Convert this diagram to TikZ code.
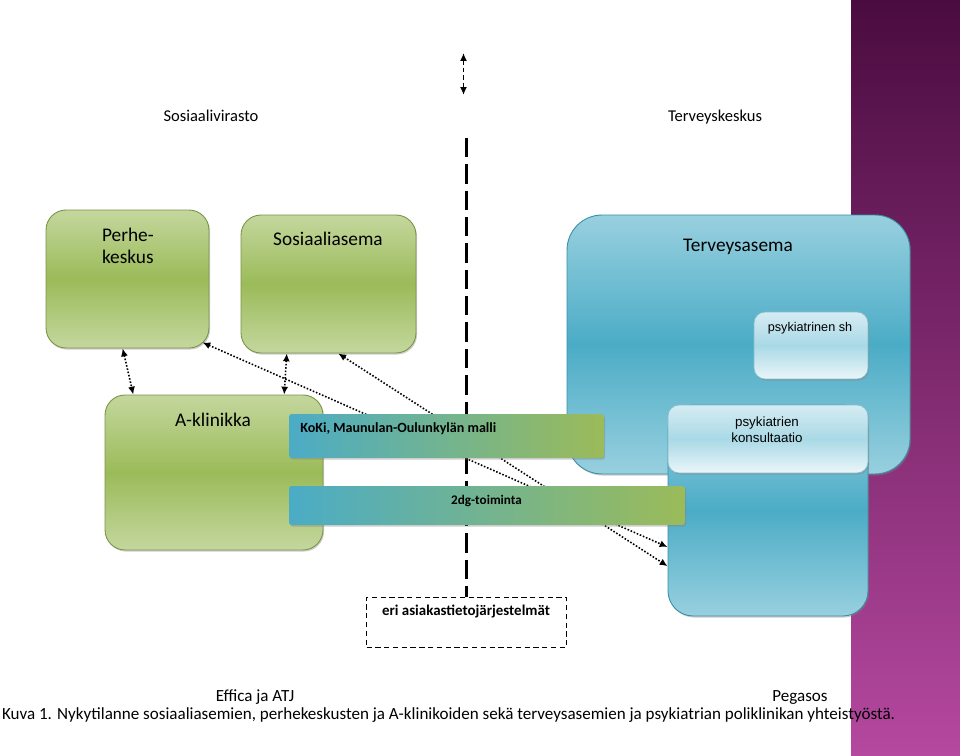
\documentclass[tikz,border=0pt]{standalone}
\usepackage{fontspec}
\setmainfont{Carlito}
\newfontfamily\arialfont{Liberation Sans}
\usetikzlibrary{calc,arrows.meta,shadows}

\definecolor{grnlight}{HTML}{C4D79E}
\definecolor{grndark}{HTML}{9BBB59}
\definecolor{grnline}{HTML}{7A9444}
\definecolor{blulight}{HTML}{98D0DF}
\definecolor{bludark}{HTML}{4BACC6}
\definecolor{bluline}{HTML}{3A8FA6}
\definecolor{glasstop}{HTML}{D6ECF3}
\definecolor{glassmid}{HTML}{A9D9E6}
\definecolor{purtop}{HTML}{4A0C40}
\definecolor{purbot}{HTML}{B5489F}

\begin{document}
\begin{tikzpicture}[x=0.02cm,y=-0.02cm,>={Latex[length=4.5pt,width=4pt]},
  greenbox/.style={draw=grnline,line width=0.5pt,rounded corners=0.4cm,
    top color=grnlight,bottom color=grnlight,middle color=grndark,
    drop shadow={shadow xshift=0.6pt,shadow yshift=-0.9pt,opacity=0.4}},
  bluebox/.style={draw=bluline,line width=0.5pt,rounded corners=0.7cm,
    top color=blulight,bottom color=blulight,middle color=bludark,
    drop shadow={shadow xshift=0.6pt,shadow yshift=-0.9pt,opacity=0.4}},
  glassbox/.style={draw=bluline!60,line width=0.4pt,rounded corners=0.22cm,
    top color=glasstop,bottom color=glasstop!50!white,middle color=glassmid,
    drop shadow={shadow xshift=0.6pt,shadow yshift=-0.9pt,opacity=0.4}},
  bar/.style={rounded corners=1.5pt,left color=bludark,right color=grndark,inner sep=0pt,
    drop shadow={shadow xshift=0.6pt,shadow yshift=-0.9pt,opacity=0.4}},
  txt/.style={anchor=base,inner sep=0pt,font=\fontsize{9.7}{11}\selectfont},
  title/.style={anchor=base,inner sep=0pt,font=\fontsize{11}{12.6}\selectfont},
  small/.style={anchor=base,inner sep=0pt,font=\arialfont\fontsize{7.2}{9}\selectfont},
  bartxt/.style={anchor=base,inner sep=0pt,font=\bfseries\fontsize{8}{10}\selectfont},
  link/.style={<->,densely dotted,line width=0.9pt},
]

\useasboundingbox (0,0) rectangle (960,756);
\fill[top color=purtop,bottom color=purbot] (851,0) rectangle (960,756);

\node[txt,font=\fontsize{9.4}{11}\selectfont] (sosvir) at (211,122) {Sosiaalivirasto};
\node[txt,font=\fontsize{9.4}{11}\selectfont] (tervk) at (715,122) {Terveyskeskus};

%%%%%%%%%%%%%%%%%%%%%%%%%%%%%%%%%%%%%%%%%%%%%%%%%%%%%%%%%%%%%%%%

\node[greenbox,minimum width=3.26cm,minimum height=2.76cm] (perhe) at (127.5,279) {};
\node[greenbox,minimum width=3.5cm,minimum height=2.76cm] (sosas) at (328.5,284) {};
\node[greenbox,minimum width=4.36cm,minimum height=3.1cm] (aklin) at (214,472.5) {};

\node[bluebox,minimum width=6.86cm,minimum height=5.18cm] (terv) at (738.5,344.5) {};
\node[glassbox,minimum width=2.28cm,minimum height=1.34cm] (psh) at (811,345.5) {};
\node[bluebox,rounded corners=0.5cm,minimum width=4cm,minimum height=4.22cm] (kons) at (768,510.5) {};
\node[glassbox,minimum width=4cm,minimum height=1.36cm] (konstop) at (768,439) {};

\node[title,anchor=north west,align=left] (perhetxt) at (101.7,227.4) {Perhe-\\keskus};
\node[title] (sosastxt) at (328,246) {Sosiaaliasema};
\node[title] (aklintxt) at (213,426.5) {A-klinikka};
\node[title] (tervtxt) at (738,252) {Terveysasema};
\node[small] (pshtxt) at (810,332) {psykiatrinen sh};
\node[small,anchor=north,align=center,font=\arialfont\fontsize{7.6}{9}\selectfont] (konstxt) at (767,416.5) {psykiatrien\\konsultaatio};

\node[draw,fill=white,line width=1pt,dash pattern=on 3pt off 2pt,minimum width=4cm,minimum height=1cm] (ats) at (466.5,622.5) {};
\node[bartxt,font=\bfseries\fontsize{8.5}{10}\selectfont] (atstxt) at (466,615.7) {eri asiakastietojärjestelmät};

%%%%%%%%%%%%%%%%%%%%%%%%%%%%%%%%%%%%%%%%%%%%%%%%%%%%%%%%%%%%%%%%

\coordinate (divtop) at (466.5,138);
\draw[line width=1.7pt,dash pattern=on 11pt off 4pt] (divtop) -- (ats.north);

\coordinate (uptip) at (463.5,53);
\coordinate (dntip) at (463.5,95);
\draw[<->,line width=0.9pt,dash pattern=on 2.5pt off 1.8pt] (uptip) -- (dntip);

\draw[link] (perhe.-94) -- (aklin.136.6);
\draw[link] (sosas.239.3) -- (aklin.48.7);
\draw[link] ($(perhe.south east)+(-7,-6)$) -- (kons.200.2);
\draw[link] (sosas.-82) -- (kons.209.4);

%%%%%%%%%%%%%%%%%%%%%%%%%%%%%%%%%%%%%%%%%%%%%%%%%%%%%%%%%%%%%%%%

\node[bar,minimum width=6.3cm,minimum height=0.88cm] (koki) at (446.5,436) {};
\node[bar,minimum width=7.92cm,minimum height=0.78cm] (dg) at (487,505.5) {};
\node[bartxt,anchor=base west] (kokitxt) at (300,433) {KoKi, Maunulan-Oulunkylän malli};
\node[bartxt,font=\bfseries\fontsize{7.5}{9}\selectfont] (dgtxt) at (486.5,504.5) {2dg-toiminta};

\node[txt] (effica) at (255,701.5) {Effica ja ATJ};
\node[txt] (pegasos) at (800,701.5) {Pegasos};
\node[txt,anchor=base west] (kuva) at (1.7,719) {Kuva 1. Nykytilanne sosiaaliasemien, perhekeskusten ja A-klinikoiden sekä terveysasemien ja psykiatrian poliklinikan yhteistyöstä.};

\end{tikzpicture}
\end{document}
